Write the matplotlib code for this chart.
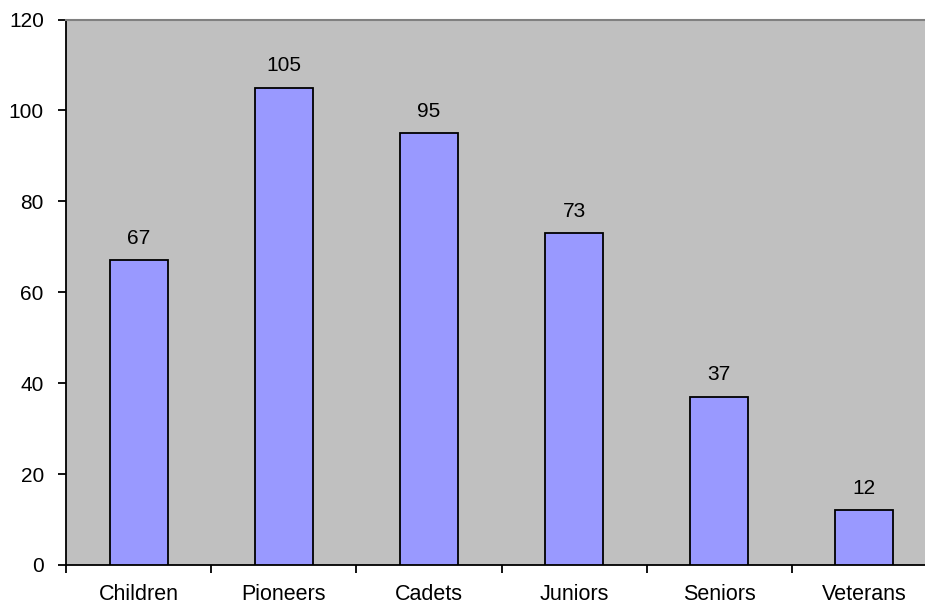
import matplotlib.pyplot as plt
import numpy as np

categories = ["Children", "Pioneers", "Cadets", "Juniors", "Seniors", "Veterans"]
values = [67, 105, 95, 73, 37, 12]

plt.rcParams['font.family'] = ['Liberation Sans', 'DejaVu Sans']

fig = plt.figure(figsize=(9.25, 6.06), dpi=100)
# plot area runs past the right edge of the picture, as in the original
ax = fig.add_axes([66 / 925, 41 / 606, 871 / 925, 545.5 / 606])
ax.set_facecolor("#C0C0C0")

x = np.arange(len(categories))
bars = ax.bar(x, values, width=0.40, color="#9999FF", edgecolor="black", linewidth=1.3, zorder=3)

for xi, v in zip(x, values):
    ax.annotate(str(v), (xi, v), xytext=(0, 9), textcoords="offset points",
                ha="center", va="bottom", fontsize=15)

ax.set_xlim(-0.5, len(categories) - 0.5)
ax.set_ylim(0, 120)
ax.set_yticks(range(0, 121, 20))
ax.tick_params(axis="y", labelsize=15, length=6, width=1.3, direction="out", pad=10)

ax.set_xticks(x)
ax.set_xticklabels(categories, fontsize=15.5)
ax.tick_params(axis="x", length=0, pad=14)
ax.set_xticks(np.arange(-0.5, len(categories) - 0.5, 1), minor=True)
ax.tick_params(axis="x", which="minor", length=6, width=1.3, direction="out")

ax.spines["left"].set_linewidth(1.3)
ax.spines["bottom"].set_linewidth(1.3)
ax.spines["top"].set_color("#808080")
ax.spines["top"].set_linewidth(1.5)
ax.spines["right"].set_visible(False)

fig.savefig("out.png", dpi=100)
